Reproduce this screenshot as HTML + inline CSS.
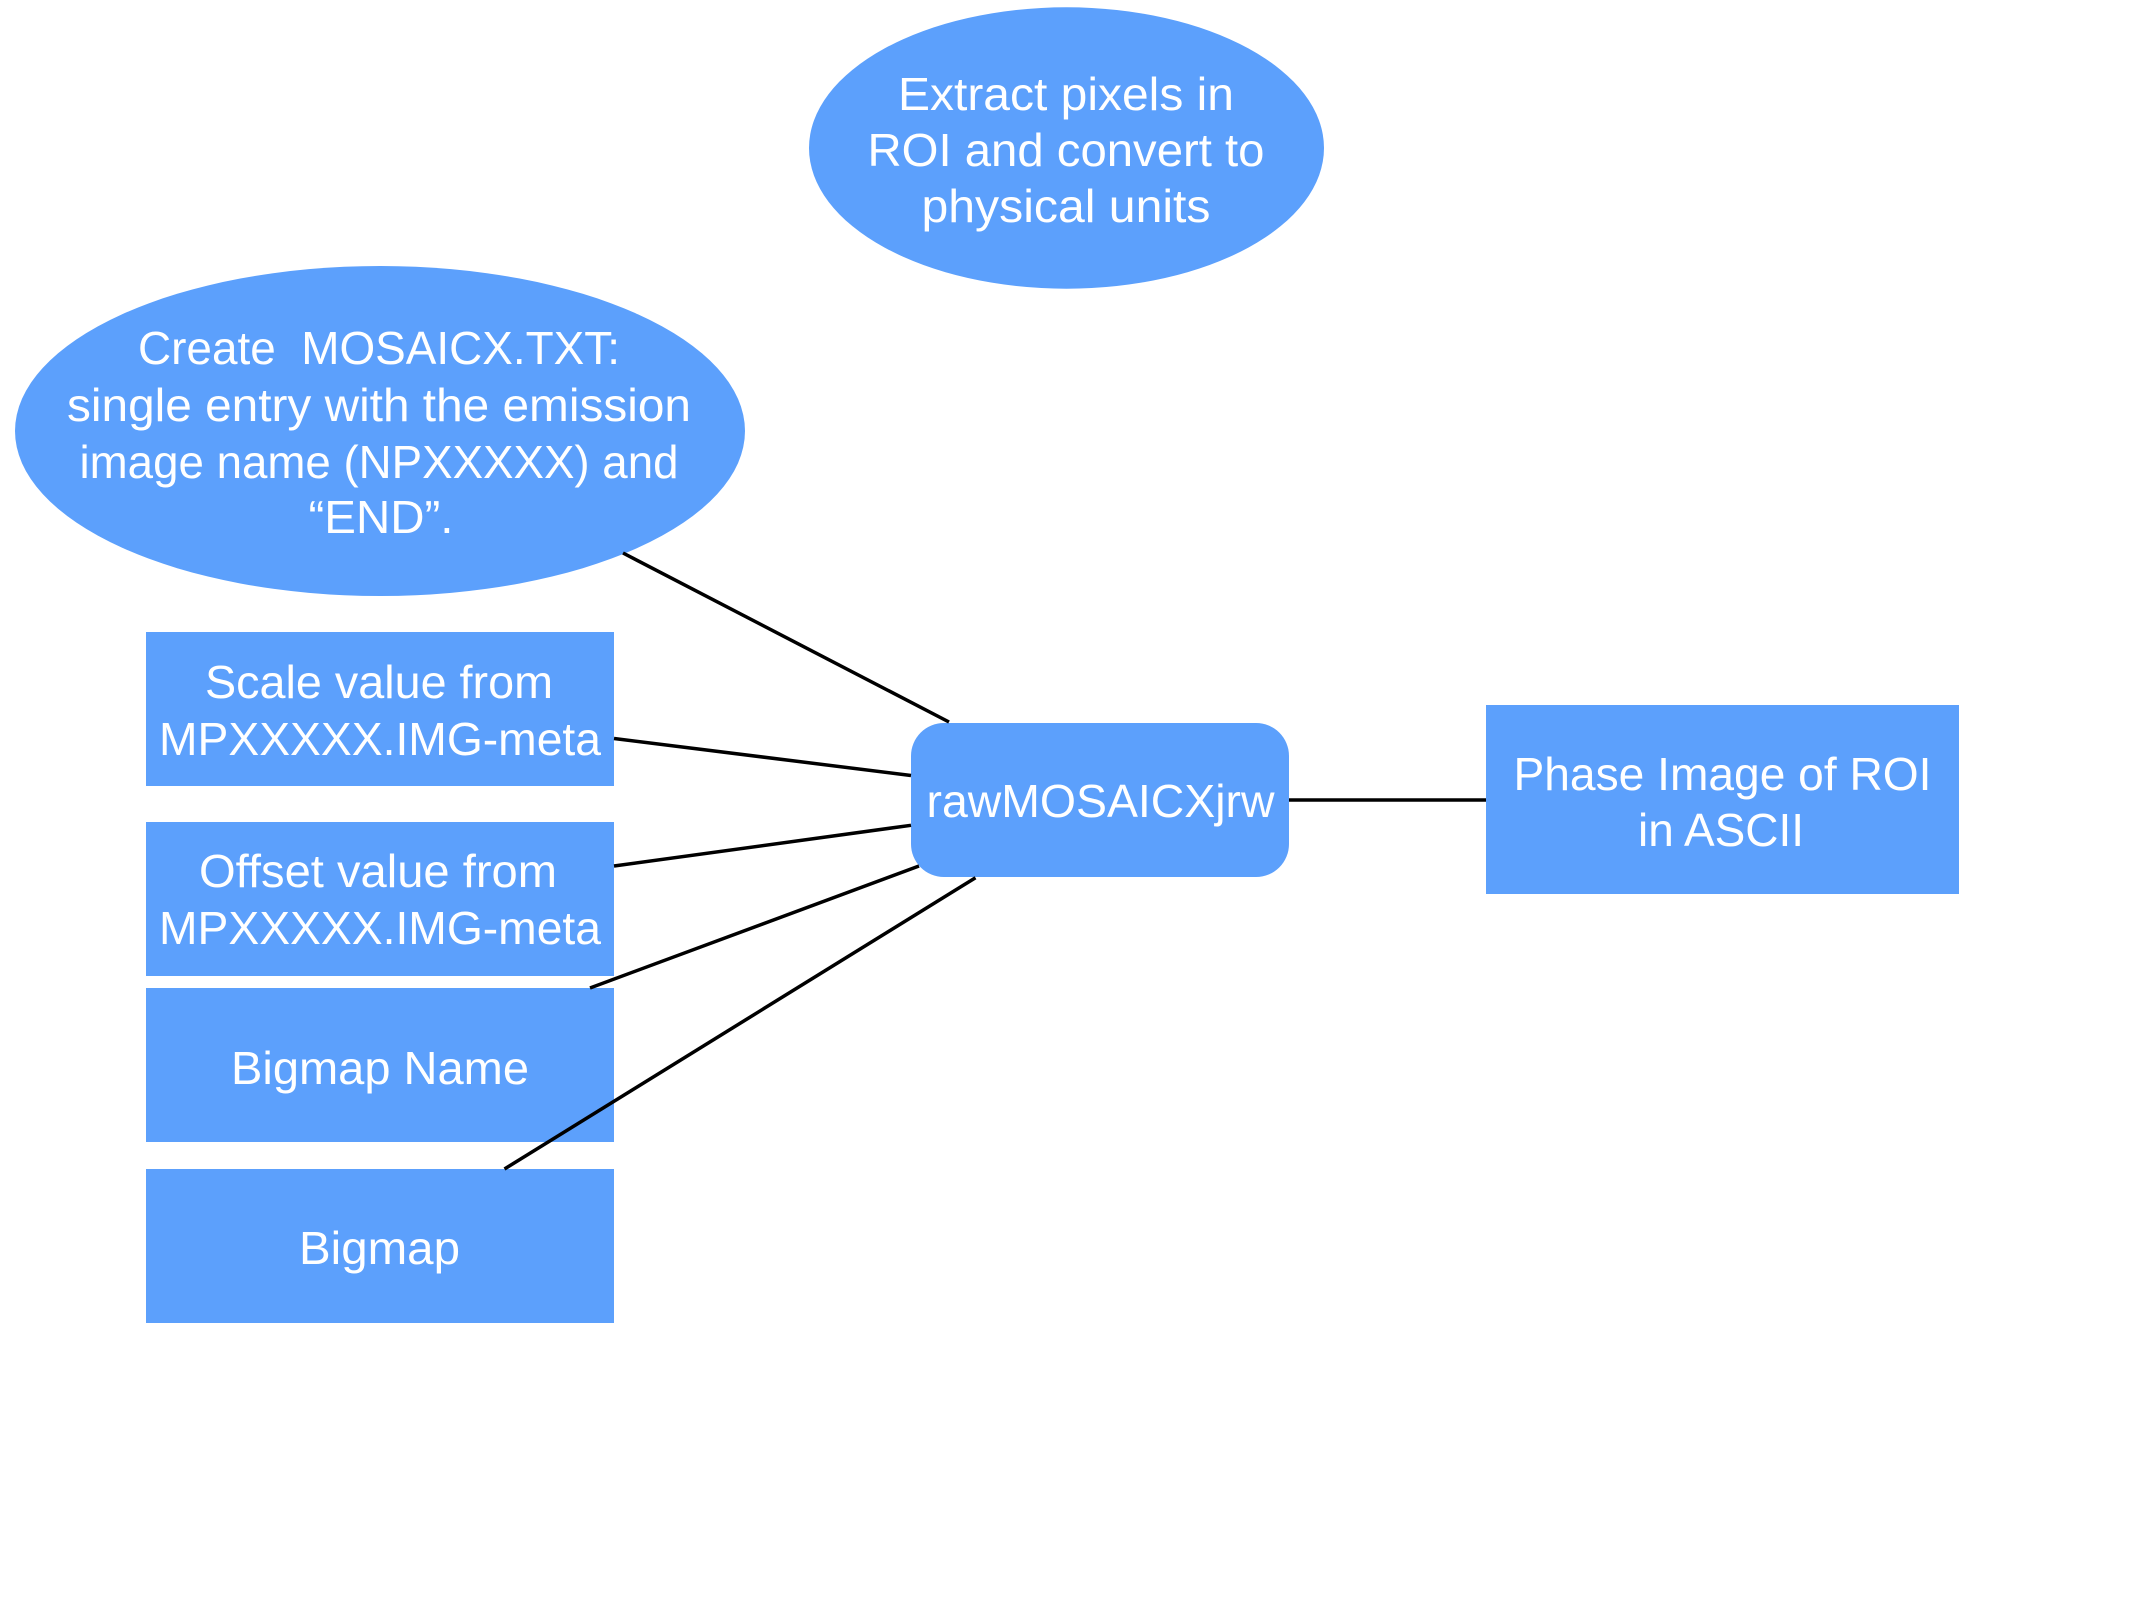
<!DOCTYPE html>
<html>
<head>
<meta charset="utf-8">
<style>
  html, body { margin: 0; padding: 0; background: #ffffff; }
  body { width: 2133px; height: 1600px; overflow: hidden; }
  svg { display: block; }
  text { font-family: "Liberation Sans", Arial, sans-serif; font-size: 46px; fill: #ffffff; white-space: pre; }
</style>
</head>
<body>
<svg width="2133" height="1600" viewBox="0 0 2133 1600" xmlns="http://www.w3.org/2000/svg">
  <rect x="0" y="0" width="2133" height="1600" fill="#ffffff"/>

  <!-- Top ellipse -->
  <ellipse cx="1066.5" cy="148" rx="257.5" ry="140.7" fill="#5CA0FC"/>
  <text x="1066" y="110" text-anchor="middle" textLength="336" lengthAdjust="spacingAndGlyphs">Extract pixels in</text>
  <text x="1066" y="166" text-anchor="middle" textLength="397" lengthAdjust="spacingAndGlyphs">ROI and convert to</text>
  <text x="1066" y="222" text-anchor="middle" textLength="289" lengthAdjust="spacingAndGlyphs">physical units</text>

  <!-- Left ellipse -->
  <ellipse cx="380" cy="431" rx="365" ry="165" fill="#5CA0FC"/>
  <text x="379" y="364" text-anchor="middle" textLength="482" lengthAdjust="spacingAndGlyphs" xml:space="preserve">Create  MOSAICX.TXT:</text>
  <text x="379" y="421" text-anchor="middle" textLength="624" lengthAdjust="spacingAndGlyphs">single entry with the emission</text>
  <text x="379" y="478" text-anchor="middle" textLength="599" lengthAdjust="spacingAndGlyphs">image name (NPXXXXX) and</text>
  <text x="381" y="533" text-anchor="middle" textLength="145" lengthAdjust="spacingAndGlyphs">“END”.</text>

  <!-- Left rects -->
  <rect x="146" y="632" width="468" height="154" fill="#5CA0FC"/>
  <text x="379" y="698" text-anchor="middle" textLength="348" lengthAdjust="spacingAndGlyphs">Scale value from</text>
  <text x="380" y="755" text-anchor="middle" textLength="442" lengthAdjust="spacingAndGlyphs">MPXXXXX.IMG-meta</text>

  <rect x="146" y="822" width="468" height="154" fill="#5CA0FC"/>
  <text x="378" y="887" text-anchor="middle" textLength="358" lengthAdjust="spacingAndGlyphs">Offset value from</text>
  <text x="380" y="944" text-anchor="middle" textLength="442" lengthAdjust="spacingAndGlyphs">MPXXXXX.IMG-meta</text>

  <rect x="146" y="988" width="468" height="154" fill="#5CA0FC"/>
  <text x="380" y="1084" text-anchor="middle" textLength="298" lengthAdjust="spacingAndGlyphs">Bigmap Name</text>

  <rect x="146" y="1169" width="468" height="154" fill="#5CA0FC"/>
  <text x="379.5" y="1264" text-anchor="middle" textLength="161" lengthAdjust="spacingAndGlyphs">Bigmap</text>

  <!-- Central rounded rect -->
  <rect x="911" y="723" width="378" height="154" rx="33" ry="33" fill="#5CA0FC"/>
  <text x="1100.5" y="817" text-anchor="middle" textLength="348" lengthAdjust="spacingAndGlyphs">rawMOSAICXjrw</text>

  <!-- Phase image rect -->
  <rect x="1486" y="705" width="473" height="189" fill="#5CA0FC"/>
  <text x="1722.5" y="790" text-anchor="middle" textLength="418" lengthAdjust="spacingAndGlyphs">Phase Image of ROI</text>
  <text x="1721" y="846" text-anchor="middle" textLength="166" lengthAdjust="spacingAndGlyphs">in ASCII</text>

  <!-- Connectors -->
  <g stroke="#000000" stroke-width="3.5" fill="none" stroke-linecap="butt">
    <line x1="623" y1="553" x2="949" y2="722"/>
    <line x1="614" y1="738.5" x2="911" y2="775.5"/>
    <line x1="614" y1="866" x2="911" y2="825.3"/>
    <line x1="590" y1="988" x2="919" y2="866"/>
    <line x1="504.5" y1="1169" x2="975.5" y2="877.7"/>
    <line x1="1289" y1="800" x2="1486" y2="800"/>
  </g>
</svg>
</body>
</html>
